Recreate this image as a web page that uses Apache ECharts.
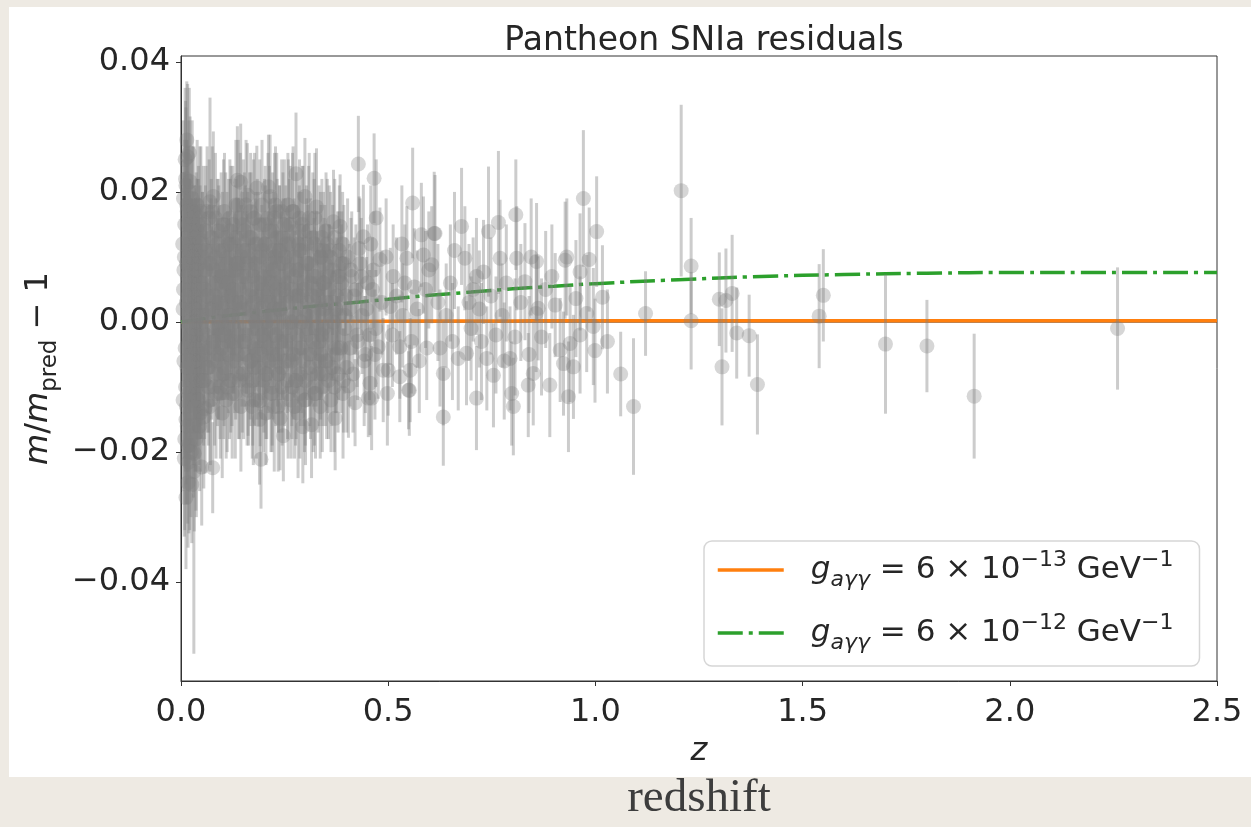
<!DOCTYPE html>
<html>
<head>
<meta charset="utf-8">
<script src="https://cdn.jsdelivr.net/npm/echarts@6/dist/echarts.min.js"></script>
<style>
html,body{margin:0;padding:0;background:#eeeae3;}
#chart{width:1251px;height:827px;}
</style>
</head>
<body>
<div id="chart"></div>
<script>
// ---- data: rows are [redshift z, residual m/m_pred - 1, 1-sigma error] ----
const snLowest = [ // z < 0.05
[0.010,0.025,0.011],[0.012,0.021,0.012],[0.014,0.018,0.010],[0.016,0.0254,0.0112],[0.018,0.015,0.012],
[0.020,0.012,0.010],[0.022,0.0216,0.010],[0.024,0.010,0.009],[0.026,0.008,0.011],[0.028,0.006,0.012],
[0.030,0.004,0.010],[0.032,0.002,0.011],[0.034,0.000,0.012],[0.036,-0.002,0.010],[0.038,-0.004,0.011],
[0.040,-0.006,0.010],[0.042,0.013,0.009],[0.044,0.009,0.010],[0.046,-0.008,0.010],[0.048,0.003,0.009],
[0.011,-0.010,0.013],[0.013,-0.013,0.012],[0.015,-0.016,0.012],[0.017,-0.0247,0.010],[0.019,-0.0215,0.011],
[0.021,-0.019,0.013],[0.023,-0.008,0.012],[0.025,-0.005,0.011],[0.027,0.016,0.011],[0.029,-0.012,0.010],
[0.031,-0.023,0.028],[0.032,-0.0202,0.012],[0.033,0.011,0.010],[0.035,0.007,0.012],[0.037,-0.017,0.013],
[0.039,0.014,0.008],[0.041,-0.011,0.010],[0.043,0.005,0.011],[0.045,-0.003,0.012],[0.047,-0.014,0.009],
[0.049,0.001,0.010],[0.050,-0.0223,0.009],[0.006,0.005,0.014],[0.007,-0.006,0.015],[0.008,0.010,0.013],
[0.009,-0.018,0.014],[0.005,0.002,0.012],[0.013,0.003,0.010],[0.019,0.000,0.011],[0.023,-0.002,0.009],
[0.027,0.002,0.010],[0.036,0.008,0.011],[0.044,-0.007,0.010],[0.039,-0.009,0.009],[0.015,0.007,0.012],
[0.021,0.005,0.010],
[0.004,0.012,0.013],[0.005,-0.012,0.014],[0.006,0.019,0.012],[0.007,0.008,0.015],[0.008,-0.021,0.012],
[0.009,0.015,0.013],[0.010,-0.004,0.014],[0.011,0.022,0.012],[0.012,-0.015,0.013],[0.013,0.009,0.012],
[0.014,-0.007,0.013],[0.015,0.017,0.011],[0.016,-0.019,0.012],[0.017,0.004,0.013],[0.018,-0.011,0.012],
[0.019,0.020,0.011],[0.020,-0.003,0.012],[0.021,0.011,0.011],[0.022,-0.014,0.012],[0.023,0.006,0.011],
[0.024,-0.020,0.010],[0.025,0.014,0.011],[0.026,-0.009,0.010],[0.027,0.019,0.012],[0.028,-0.001,0.011],
[0.029,0.010,0.010],[0.030,-0.016,0.011],[0.031,0.017,0.010],[0.032,-0.006,0.011],[0.033,0.003,0.010],
[0.034,-0.013,0.010],[0.035,0.012,0.009],[0.036,-0.018,0.011],[0.037,0.008,0.010],[0.038,-0.010,0.009],
[0.039,0.018,0.010],[0.040,0.001,0.010],[0.041,-0.005,0.011],[0.042,0.015,0.009],[0.043,-0.012,0.010],
[0.044,0.006,0.009],[0.045,-0.016,0.010],[0.046,0.011,0.010],[0.047,-0.001,0.009],[0.048,0.017,0.010],
[0.049,-0.009,0.009],[0.014,0.028,0.009],[0.020,0.026,0.010],[0.012,-0.027,0.011],[0.026,-0.025,0.009],
[0.0305,0.009,0.010],[0.0335,-0.004,0.011],[0.0365,0.013,0.010],[0.0395,-0.012,0.011],[0.0425,0.002,0.010],
[0.0455,0.016,0.011],[0.0485,-0.006,0.010]
];
const snLow = [ // 0.05 - 0.15
[0.052,0.012,0.008],[0.055,-0.0146,0.011],[0.058,-0.0133,0.010],[0.060,0.008,0.009],[0.062,0.004,0.010],
[0.064,-0.004,0.010],[0.066,-0.010,0.009],[0.068,0.016,0.009],[0.070,0.0185,0.016],[0.072,0.001,0.008],
[0.074,-0.006,0.009],[0.0765,-0.0224,0.007],[0.078,0.0193,0.010],[0.080,0.006,0.008],[0.082,-0.002,0.009],
[0.084,0.010,0.009],[0.086,0.003,0.008],[0.088,-0.008,0.008],[0.090,0.014,0.008],[0.092,0.000,0.009],
[0.094,-0.010,0.008],[0.096,0.007,0.009],[0.098,-0.004,0.008],[0.100,0.011,0.009],[0.102,0.002,0.008],
[0.104,-0.007,0.009],[0.106,0.005,0.008],[0.108,0.013,0.010],[0.110,-0.001,0.008],[0.112,0.009,0.008],
[0.114,-0.005,0.009],[0.116,0.004,0.008],[0.118,0.016,0.009],[0.120,-0.009,0.008],[0.122,0.001,0.009],
[0.124,0.007,0.008],[0.126,-0.003,0.008],[0.128,0.012,0.009],[0.130,0.003,0.008],[0.132,-0.006,0.009],
[0.134,0.008,0.008],[0.136,0.0218,0.0083],[0.138,0.018,0.010],[0.140,-0.002,0.008],[0.142,0.005,0.009],
[0.144,0.0215,0.009],[0.146,0.010,0.008],[0.148,-0.008,0.009],
[0.051,0.006,0.009],[0.053,-0.005,0.010],[0.054,0.015,0.009],[0.056,0.001,0.010],[0.057,-0.009,0.009],
[0.059,0.011,0.010],[0.061,-0.002,0.009],[0.063,0.017,0.010],[0.065,0.004,0.009],[0.067,-0.007,0.010],
[0.069,0.009,0.009],[0.071,-0.012,0.010],[0.073,0.013,0.009],[0.075,0.002,0.010],[0.077,-0.004,0.009],
[0.079,0.008,0.010],[0.081,-0.010,0.009],[0.083,0.016,0.010],[0.085,-0.001,0.009],[0.087,0.006,0.010],
[0.089,-0.006,0.009],[0.091,0.011,0.010],[0.093,0.003,0.009],[0.095,-0.011,0.010],[0.097,0.014,0.009],
[0.099,-0.002,0.010],[0.101,0.007,0.009],[0.103,-0.008,0.010],[0.105,0.017,0.009],[0.107,0.001,0.010],
[0.109,-0.012,0.009],[0.111,0.010,0.010],[0.113,-0.003,0.009],[0.115,0.006,0.010],[0.117,-0.009,0.009],
[0.119,0.012,0.010],[0.121,0.004,0.009],[0.123,-0.006,0.010],[0.125,0.015,0.009],[0.127,-0.001,0.010],
[0.129,0.008,0.009],[0.131,-0.011,0.010],[0.133,0.013,0.009],[0.135,0.002,0.010],[0.137,-0.005,0.009],
[0.139,0.009,0.010],[0.141,-0.009,0.009],[0.143,0.016,0.010],[0.145,0.003,0.009],[0.147,-0.003,0.010],
[0.149,0.011,0.009],
[0.0515,0.010,0.010],[0.0545,-0.009,0.010],[0.0575,0.005,0.010],[0.0605,0.014,0.010],[0.0635,-0.007,0.010],
[0.0665,0.002,0.010],[0.0695,-0.013,0.010],[0.0725,0.009,0.010],[0.0755,0.017,0.010],[0.0785,-0.003,0.010],
[0.0815,0.004,0.010],[0.0845,-0.011,0.010],[0.0875,0.012,0.010],[0.0905,-0.005,0.010],[0.0935,0.008,0.010],
[0.0965,0.000,0.010],[0.0995,-0.014,0.010],[0.1025,0.015,0.010],[0.1055,-0.002,0.010],[0.1085,0.006,0.010],
[0.1115,-0.010,0.010],[0.1145,0.012,0.010],[0.1175,0.001,0.010],[0.1205,0.014,0.010],[0.1235,-0.011,0.010],
[0.1265,0.005,0.010],[0.1295,-0.004,0.010],[0.1325,0.018,0.010],[0.1355,0.009,0.010],[0.1385,-0.008,0.010],
[0.1415,0.003,0.010],[0.1445,-0.013,0.010],[0.1475,0.007,0.010]
];
const snMidLow = [ // 0.15 - 0.25
[0.150,0.002,0.008],[0.153,0.014,0.009],[0.156,-0.005,0.008],[0.159,0.009,0.008],[0.162,-0.0105,0.007],
[0.165,0.004,0.009],[0.168,0.017,0.009],[0.171,-0.001,0.008],[0.174,0.007,0.008],[0.177,-0.007,0.009],
[0.180,0.012,0.008],[0.183,0.0206,0.0065],[0.186,0.001,0.009],[0.189,-0.004,0.008],[0.191,-0.0121,0.007],
[0.193,-0.0211,0.0076],[0.195,0.010,0.008],[0.198,0.005,0.009],[0.200,-0.009,0.008],[0.203,0.015,0.009],
[0.206,0.000,0.008],[0.209,0.008,0.009],[0.211,0.0208,0.008],[0.213,-0.006,0.009],[0.215,0.0193,0.0095],
[0.218,0.003,0.008],[0.220,-0.011,0.008],[0.223,0.011,0.009],[0.226,-0.002,0.008],[0.229,0.006,0.008],
[0.232,0.013,0.009],[0.235,-0.008,0.009],[0.237,0.002,0.008],[0.239,-0.0148,0.008],[0.241,0.009,0.009],
[0.243,0.017,0.008],[0.245,-0.004,0.008],[0.247,-0.0175,0.007],[0.249,0.005,0.009],[0.160,0.0195,0.008],
[0.172,-0.013,0.008],[0.205,-0.014,0.008],[0.228,0.018,0.009],[0.181,0.004,0.008],[0.196,-0.002,0.008],
[0.214,0.001,0.009],[0.233,-0.005,0.008],
[0.151,-0.008,0.010],[0.154,0.007,0.009],[0.157,0.018,0.010],[0.158,-0.002,0.009],
[0.161,0.010,0.010],[0.163,-0.010,0.009],[0.166,0.005,0.010],[0.167,-0.006,0.009],[0.169,0.013,0.010],
[0.170,0.001,0.009],[0.173,-0.009,0.010],[0.175,0.016,0.009],[0.176,0.003,0.010],[0.178,-0.004,0.009],
[0.179,0.009,0.010],[0.182,-0.012,0.009],[0.184,0.012,0.010],[0.185,-0.001,0.009],[0.187,0.006,0.010],
[0.188,-0.007,0.009],[0.190,0.015,0.010],[0.192,0.002,0.009],[0.194,-0.005,0.010],[0.197,0.011,0.009],
[0.199,-0.010,0.010],
[0.201,0.007,0.009],[0.202,-0.003,0.010],[0.204,0.012,0.009],[0.207,-0.008,0.010],[0.208,0.004,0.009],
[0.210,0.016,0.010],[0.212,-0.001,0.009],[0.216,0.009,0.010],[0.217,-0.011,0.009],[0.219,0.006,0.010],
[0.221,0.014,0.009],[0.222,-0.005,0.010],[0.224,0.002,0.009],[0.225,-0.013,0.010],[0.227,0.010,0.009],
[0.230,-0.002,0.010],[0.231,0.017,0.009],[0.234,0.004,0.010],[0.236,-0.008,0.009],[0.238,0.011,0.010],
[0.240,-0.003,0.009],[0.242,0.007,0.010],[0.244,-0.010,0.009],[0.246,0.013,0.010],[0.248,0.000,0.009],
[0.1505,0.015,0.010],[0.1535,-0.003,0.010],[0.1565,0.011,0.010],[0.1595,-0.009,0.010],[0.1625,0.002,0.010],
[0.1655,0.013,0.010],[0.1685,-0.006,0.010],[0.1715,0.008,0.010],[0.1745,-0.012,0.010],[0.1775,0.016,0.010],
[0.1805,0.000,0.010],[0.1835,-0.005,0.010],[0.1865,0.010,0.010],[0.1895,-0.015,0.010],[0.1925,0.006,0.010],
[0.1955,0.018,0.010],[0.1985,-0.002,0.010],[0.2015,0.012,0.010],[0.2045,-0.008,0.010],[0.2075,0.003,0.010],
[0.2105,-0.004,0.010],[0.2135,0.014,0.010],[0.2165,0.001,0.010],[0.2195,-0.010,0.010],[0.2225,0.008,0.010],
[0.2255,0.016,0.010],[0.2285,-0.006,0.010],[0.2315,0.005,0.010],[0.2345,-0.013,0.010],[0.2375,0.011,0.010],
[0.2405,0.002,0.010],[0.2435,-0.007,0.010],[0.2465,0.009,0.010],[0.2495,0.015,0.010]
];
const snMid = [ // 0.25 - 0.40
[0.252,0.010,0.009],[0.256,-0.006,0.008],[0.260,0.003,0.008],[0.264,0.015,0.009],[0.268,-0.010,0.008],
[0.272,0.007,0.008],[0.2775,0.0228,0.0094],[0.280,-0.002,0.009],[0.284,0.012,0.008],[0.288,-0.008,0.008],
[0.292,0.004,0.009],[0.294,-0.0161,0.0087],[0.299,0.0193,0.009],[0.302,0.001,0.008],[0.306,0.009,0.009],
[0.310,-0.005,0.008],[0.315,-0.0158,0.0082],[0.318,0.013,0.010],[0.322,-0.011,0.008],[0.327,0.0177,0.009],
[0.330,0.005,0.008],[0.334,-0.003,0.009],[0.338,0.010,0.008],[0.342,-0.008,0.008],[0.346,0.002,0.009],
[0.350,0.014,0.009],[0.354,-0.006,0.008],[0.358,0.007,0.008],[0.362,-0.012,0.008],[0.368,0.0154,0.008],
[0.372,-0.0148,0.008],[0.376,0.004,0.009],[0.380,-0.004,0.008],[0.384,0.0147,0.008],[0.388,0.009,0.008],
[0.392,-0.009,0.008],[0.396,0.001,0.009],[0.258,0.018,0.008],[0.274,-0.013,0.008],[0.286,0.016,0.009],
[0.312,0.006,0.008],[0.325,-0.001,0.008],[0.344,0.011,0.009],[0.365,0.003,0.008],[0.390,0.012,0.008],
[0.270,0.000,0.008],[0.298,-0.012,0.008],[0.336,-0.013,0.008],
[0.250,-0.006,0.010],[0.253,0.012,0.009],[0.255,0.004,0.010],[0.257,-0.009,0.009],[0.259,0.015,0.010],
[0.262,-0.002,0.009],[0.263,0.008,0.010],[0.266,-0.012,0.009],[0.267,0.005,0.010],[0.269,0.017,0.009],
[0.271,-0.005,0.010],[0.273,0.010,0.009],[0.276,0.001,0.010],[0.278,-0.009,0.009],[0.279,0.013,0.010],
[0.282,0.004,0.009],[0.283,-0.004,0.010],[0.285,0.008,0.009],[0.287,-0.011,0.010],[0.290,0.011,0.009],
[0.291,0.000,0.010],[0.293,0.015,0.009],[0.296,-0.006,0.010],[0.297,0.006,0.009],[0.300,-0.009,0.010],
[0.303,0.012,0.009],[0.304,-0.002,0.010],[0.307,0.003,0.009],[0.308,0.014,0.010],[0.311,-0.007,0.009],
[0.313,0.009,0.010],[0.316,0.001,0.009],[0.319,-0.010,0.010],[0.321,0.007,0.009],[0.323,0.016,0.010],
[0.326,-0.004,0.009],[0.328,0.004,0.010],[0.331,-0.008,0.009],[0.333,0.011,0.010],[0.335,0.002,0.009],
[0.337,-0.005,0.010],[0.340,0.013,0.009],[0.341,-0.010,0.010],[0.343,0.006,0.009],[0.345,-0.001,0.010],
[0.347,0.009,0.009],[0.349,-0.006,0.010],[0.352,0.003,0.009],[0.353,0.012,0.010],[0.356,-0.009,0.009],
[0.357,0.005,0.010],[0.360,-0.002,0.009],[0.361,0.010,0.010],[0.364,-0.007,0.009],[0.366,0.008,0.010],
[0.367,0.000,0.009],[0.370,-0.010,0.010],[0.371,0.013,0.009],[0.374,0.002,0.010],[0.375,-0.005,0.009],
[0.378,0.007,0.010],[0.379,-0.008,0.009],[0.382,0.011,0.010],[0.383,0.001,0.009],[0.386,-0.004,0.010],
[0.387,0.006,0.009],[0.391,-0.011,0.010],[0.393,0.009,0.009],[0.395,-0.001,0.010],[0.398,0.004,0.009],
[0.2525,-0.003,0.010],[0.2555,0.006,0.010],[0.2585,-0.011,0.010],[0.2615,0.012,0.010],[0.2645,0.000,0.010],
[0.2675,-0.006,0.010],[0.2705,0.017,0.010],[0.2735,0.004,0.010],[0.2765,-0.009,0.010],[0.2795,0.008,0.010],
[0.2825,-0.014,0.010],[0.2855,0.011,0.010],[0.2885,0.002,0.010],[0.2915,-0.004,0.010],[0.2945,0.014,0.010],
[0.2975,0.005,0.010],[0.3005,-0.012,0.010],[0.3035,0.009,0.010],[0.3065,-0.001,0.010],[0.3095,0.016,0.010],
[0.3125,-0.008,0.010],[0.3155,0.004,0.010],[0.3185,-0.003,0.010],[0.3215,0.012,0.010],[0.3245,-0.011,0.010],
[0.3275,0.007,0.010],[0.3305,0.001,0.010],[0.3335,-0.006,0.010],[0.3365,0.010,0.010],[0.3395,-0.002,0.010],
[0.3455,0.006,0.010],[0.3515,-0.008,0.010],[0.3575,0.011,0.010],[0.3635,0.001,0.010],[0.3725,-0.004,0.010],
[0.3815,0.007,0.010]
];
const snMidHigh = [ // 0.40 - 0.60
[0.404,-0.0098,0.008],[0.420,-0.0124,0.0067],[0.428,0.0243,0.0074],[0.430,0.0113,0.008],[0.440,0.0131,0.008],
[0.452,-0.0117,0.006],[0.456,-0.0094,0.008],[0.460,-0.0117,0.008],[0.466,0.0221,0.0069],[0.471,0.0160,0.009],
[0.480,0.0096,0.008],[0.488,-0.0074,0.008],[0.476,-0.0038,0.008],[0.500,-0.0074,0.007],[0.512,0.0070,0.008],
[0.505,0.0024,0.009],[0.528,-0.0038,0.008],[0.528,-0.0084,0.007],[0.545,0.0098,0.008],[0.549,-0.0105,0.006],
[0.551,-0.0105,0.007],[0.553,-0.0074,0.008],[0.559,0.0183,0.0085],[0.563,0.0054,0.009],[0.580,0.0134,0.008],
[0.585,0.0103,0.009],[0.593,-0.0040,0.008],[0.418,0.004,0.009],[0.425,-0.002,0.008],[0.435,0.007,0.009],
[0.445,-0.005,0.009],[0.448,0.002,0.008],[0.462,0.005,0.008],[0.470,-0.001,0.009],[0.485,0.003,0.008],
[0.495,0.010,0.009],[0.510,-0.002,0.008],[0.520,0.004,0.009],[0.535,0.001,0.008],[0.540,0.006,0.009],
[0.556,-0.003,0.008],[0.570,0.002,0.009],[0.575,-0.006,0.008],[0.590,0.005,0.009],[0.410,0.008,0.008],
[0.458,0.012,0.009],[0.498,-0.011,0.008],[0.533,0.012,0.009],[0.598,0.008,0.009],
[0.400,-0.007,0.010],[0.402,0.010,0.009],[0.406,0.002,0.010],[0.408,-0.004,0.009],[0.412,0.007,0.010],
[0.415,-0.008,0.009],[0.422,0.005,0.010],[0.426,-0.003,0.009],[0.432,0.009,0.010],[0.437,0.001,0.009],
[0.442,-0.006,0.010],[0.450,0.006,0.009],[0.455,-0.002,0.010],[0.464,0.008,0.009],[0.468,-0.005,0.010]
];
const snHigh = [ // 0.60 - 0.90
[0.605,0.0088,0.009],[0.611,0.0136,0.0095],[0.613,0.0136,0.009],[0.620,0.0030,0.009],[0.633,-0.0146,0.0075],
[0.633,-0.0079,0.008],[0.640,0.0010,0.008],[0.650,0.0060,0.009],[0.655,-0.0030,0.009],[0.669,-0.0056,0.008],
[0.677,0.0147,0.009],[0.685,0.0098,0.008],[0.689,-0.0048,0.008],[0.695,0.0030,0.009],[0.700,-0.0010,0.008],
[0.713,0.0070,0.009],[0.713,-0.0117,0.008],[0.720,0.0020,0.009],[0.730,0.0077,0.008],[0.738,-0.0056,0.008],
[0.742,0.0139,0.010],[0.748,0.0040,0.009],[0.754,-0.0082,0.008],[0.760,-0.0020,0.009],[0.766,0.0153,0.011],
[0.770,0.0098,0.009],[0.775,0.0010,0.008],[0.785,0.0060,0.009],[0.794,-0.0056,0.008],[0.798,-0.0110,0.008],
[0.802,-0.0130,0.0075],[0.806,-0.0023,0.009],[0.808,0.0165,0.0085],[0.810,0.0098,0.008],[0.820,0.0030,0.009],
[0.830,0.0062,0.009],[0.838,-0.0097,0.008],[0.840,-0.0050,0.009],[0.850,-0.0079,0.008],[0.857,0.0013,0.009],
[0.858,0.0093,0.009],[0.862,0.0021,0.008],[0.870,-0.0023,0.009],[0.880,0.0050,0.009],[0.890,-0.0097,0.008],
[0.895,0.0070,0.008],[0.660,0.0110,0.009],[0.625,-0.0040,0.009],[0.705,0.0050,0.008],[0.725,-0.0030,0.009],
[0.780,-0.0060,0.009],[0.845,0.0100,0.009]
];
const snHigher = [ // 0.90 - 1.05
[0.903,0.0026,0.008],[0.915,-0.0043,0.008],[0.923,-0.0064,0.008],[0.927,0.0095,0.009],[0.931,0.0100,0.009],
[0.935,-0.0115,0.0085],[0.939,-0.0033,0.009],[0.947,-0.0069,0.008],[0.953,0.0036,0.009],[0.963,0.0077,0.009],
[0.963,-0.0020,0.009],[0.971,0.0190,0.0105],[0.979,0.0013,0.009],[0.985,0.0096,0.008],[0.995,-0.0007,0.009],
[0.999,-0.0044,0.008],[1.003,0.0139,0.0085],[1.017,0.0038,0.008],[1.029,-0.0030,0.008]
];
const snHighest = [ // z > 1.05
[1.061,-0.0080,0.0065],[1.092,-0.0130,0.0105],[1.121,0.0013,0.0065],[1.207,0.0202,0.0132],[1.231,0.0086,0.0074],
[1.231,0.0002,0.0075],[1.299,0.0035,0.0072],[1.3055,-0.0069,0.009],[1.315,0.0033,0.008],[1.330,0.0044,0.009],
[1.341,-0.0017,0.007],[1.371,-0.0021,0.0063],[1.391,-0.0096,0.0077],[1.540,0.0009,0.008],[1.550,0.0041,0.0071],
[1.700,-0.0034,0.0107],[1.800,-0.0037,0.0071],[1.914,-0.0114,0.0096],[2.260,-0.0010,0.0094]
];

// model curves
const modelZ      = [0, 0.1, 0.2, 0.3, 0.4, 0.5, 0.6, 0.7, 0.8, 0.9, 1.0, 1.2, 1.4, 1.6, 1.8, 2.0, 2.2, 2.5];
const modelWeak   = [0, 0.00003, 0.00006, 0.00009, 0.00011, 0.00013, 0.00015, 0.00016, 0.00017, 0.00018, 0.00019, 0.0002, 0.0002, 0.0002, 0.0002, 0.0002, 0.0002, 0.0002];
const modelStrong = [0, 0.0009, 0.0016, 0.0023, 0.0029, 0.0035, 0.0041, 0.0046, 0.0051, 0.0055, 0.0059, 0.0065, 0.0070, 0.0073, 0.0075, 0.0076, 0.0076, 0.0076];
const zeroLineZ   = [0, 2.5];

// axes
const xTicks = [0, 0.5, 1.0, 1.5, 2.0, 2.5];
const xTickLabels = ['0.0', '0.5', '1.0', '1.5', '2.0', '2.5'];
const yTicks = [-0.04, -0.02, 0, 0.02, 0.04];
const yTickLabels = ['\u22120.04', '\u22120.02', '0.00', '0.02', '0.04'];

// ---- chart ----
const snData = [].concat(snLowest, snLow, snMidLow, snMid, snMidHigh, snHigh, snHigher, snHighest);
const weakLine = modelZ.map((z, i) => [z, modelWeak[i]]);
const strongLine = modelZ.map((z, i) => [z, modelStrong[i]]);
const zeroLine = zeroLineZ.map(z => [z, 0]);

const FONT = '"DejaVu Sans", sans-serif';
const GREY = 'rgba(128,128,128,0.4)';

const legendRich = {
  g:   {fontFamily: FONT, fontSize: 31, fontStyle: 'italic', color: '#262626', lineHeight: 42, padding: [0, 0, 0, 22]},
  sub: {fontFamily: FONT, fontSize: 22, fontStyle: 'italic', color: '#262626', lineHeight: 24, verticalAlign: 'bottom'},
  n:   {fontFamily: FONT, fontSize: 31, color: '#262626', lineHeight: 42},
  sup: {fontFamily: FONT, fontSize: 22, color: '#262626', lineHeight: 20, verticalAlign: 'top'}
};
const legendText = {
  weak:   '{g|g}{sub|a\u03b3\u03b3}{n| = 6 \u00d7 10}{sup|\u221213}{n| GeV}{sup|\u22121}',
  strong: '{g|g}{sub|a\u03b3\u03b3}{n| = 6 \u00d7 10}{sup|\u221212}{n| GeV}{sup|\u22121}'
};

const chart = echarts.init(document.getElementById('chart'), null, {renderer: 'canvas'});
chart.setOption({
  animation: false,
  backgroundColor: '#eeeae3',
  graphic: [
    {type: 'rect', z: -100, silent: true, shape: {x: 9, y: 7, width: 1242, height: 770}, style: {fill: '#ffffff'}},
    {type: 'text', z: 100, silent: true, x: 699, y: 799,
     style: {text: 'redshift', font: '47px "Liberation Serif", serif', fill: '#3d3d3d', textAlign: 'center', textVerticalAlign: 'middle'}}
  ],
  title: {
    text: 'Pantheon SNIa residuals',
    left: 699, top: 20, textAlign: 'center',
    textStyle: {fontFamily: FONT, fontSize: 33, fontWeight: 'normal', color: '#262626'}
  },
  grid: {left: 181, right: 34, top: 56, bottom: 146, show: true, borderColor: '#333', borderWidth: 1, backgroundColor: 'transparent'},
  legend: {
    data: ['weak', 'strong'],
    orient: 'vertical',
    left: 704, top: 541,
    itemWidth: 66, itemHeight: 14, itemGap: 21,
    padding: [8, 26, 12, 12],
    backgroundColor: '#ffffff',
    borderColor: '#d6d6d6', borderWidth: 1.5, borderRadius: 8,
    lineStyle: {width: 3.5},
    itemStyle: {opacity: 0},
    formatter: name => legendText[name],
    textStyle: {rich: legendRich}
  },
  xAxis: {
    type: 'value', min: 0, max: 2.5, interval: 0.5,
    name: 'z', nameLocation: 'middle', nameGap: 55,
    nameTextStyle: {fontFamily: FONT, fontSize: 32, fontStyle: 'italic', color: '#262626'},
    axisLine: {show: true, onZero: false, lineStyle: {color: '#333', width: 1}},
    axisTick: {show: true, inside: false, length: 5, lineStyle: {color: '#333'}},
    axisLabel: {fontFamily: FONT, fontSize: 32, color: '#262626', margin: 16,
      formatter: v => { const i = xTicks.findIndex(t => Math.abs(t - v) < 1e-9); return i >= 0 ? xTickLabels[i] : ''; }},
    splitLine: {show: false}
  },
  yAxis: {
    type: 'value', min: -0.0552, max: 0.0409,
    name: '{i|m}{n|/}{i|m}{s|pred}{n| \u2212 1}',
    nameLocation: 'middle', nameGap: 115, nameRotate: 90,
    nameTextStyle: {rich: {
      i: {fontFamily: FONT, fontSize: 32, fontStyle: 'italic', color: '#262626', lineHeight: 44},
      n: {fontFamily: FONT, fontSize: 32, color: '#262626', lineHeight: 44},
      s: {fontFamily: FONT, fontSize: 23, color: '#262626', lineHeight: 26, verticalAlign: 'bottom'}
    }},
    axisLine: {show: true, onZero: false, lineStyle: {color: '#333', width: 1}},
    axisTick: {show: true, inside: false, length: 5, customValues: yTicks, lineStyle: {color: '#333'}},
    axisLabel: {fontFamily: FONT, fontSize: 32, color: '#262626', margin: 11, customValues: yTicks,
      formatter: v => { const i = yTicks.findIndex(t => Math.abs(t - v) < 1e-9); return i >= 0 ? yTickLabels[i] : ''; }},
    splitLine: {show: false}
  },
  series: [
    {type: 'line', name: 'zero', data: zeroLine, symbol: 'none', silent: true, z: 1,
     lineStyle: {color: '#000000', width: 1}},
    {type: 'line', name: 'weak', data: weakLine, symbol: 'none', smooth: true, z: 2,
     itemStyle: {color: '#ff7f0e'}, lineStyle: {color: '#ff7f0e', width: 3.5}},
    {type: 'line', name: 'strong', data: strongLine, symbol: 'none', smooth: true, z: 2,
     itemStyle: {color: '#2ca02c'}, lineStyle: {color: '#2ca02c', width: 3.5, type: [25, 6, 4, 6], cap: 'butt'}},
    {type: 'custom', name: 'errors', data: snData, z: 3, clip: true, silent: true,
     encode: {x: 0, y: 1},
     renderItem: function (params, api) {
       const z = api.value(0), v = api.value(1), e = api.value(2);
       const p1 = api.coord([z, v - e]);
       const p2 = api.coord([z, v + e]);
       return {type: 'line', shape: {x1: p1[0], y1: p1[1], x2: p2[0], y2: p2[1]},
               style: {stroke: GREY, lineWidth: 3}};
     }},
    {type: 'scatter', name: 'SNIa', data: snData.map(r => [r[0], r[1]]), z: 4, silent: true,
     symbol: 'circle', symbolSize: 15, itemStyle: {color: GREY, borderWidth: 0}}
  ]
});
</script>
</body>
</html>
